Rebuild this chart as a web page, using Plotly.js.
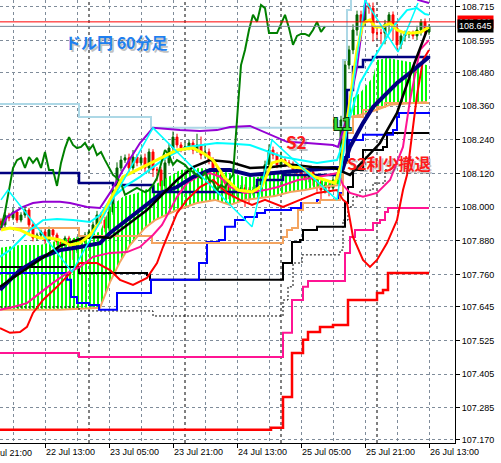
<!DOCTYPE html>
<html><head><meta charset="utf-8">
<script src="https://cdn.plot.ly/plotly-3.0.1.min.js"></script>
<style>html,body{margin:0;padding:0;background:#fff;}#chart{width:501px;height:463px;}</style>
</head><body><div id="chart"></div>
<script>
// x = hours since 2019-07-22 00:00 (USD/JPY, 60-minute bars)
const xTickHours = [13, 29, 45, 61, 77, 93, 109];
const xTickLabels = ['22 Jul 13:00','23 Jul 05:00','23 Jul 21:00','24 Jul 13:00','25 Jul 05:00','25 Jul 21:00','26 Jul 13:00'];
const yTickValues = [107.170,107.285,107.405,107.525,107.645,107.760,107.880,108.000,108.120,108.240,108.360,108.480,108.595,108.715];
const daySeparatorHours = [24, 48, 72, 96];
const bidPrice = 108.645;
const askPrice = 108.661;
const firstBarHour = 2;

const opens = [107.950,107.937,107.972,107.962,107.983,107.954,107.972,107.990,107.937,107.890,
107.901,107.912,107.883,107.919,107.901,107.876,107.865,107.890,107.876,107.847,
107.883,107.876,107.901,107.912,107.937,107.972,107.954,107.926,107.983,108.061,
108.140,108.168,108.176,108.140,108.179,108.158,108.176,108.140,108.197,108.133,
108.133,108.076,108.158,108.211,108.250,108.222,108.211,108.215,108.229,108.204,
108.222,108.186,108.197,108.168,108.140,108.115,108.104,108.086,108.044,108.054,
108.061,108.069,108.061,108.054,108.061,108.079,108.104,108.151,108.204,108.186,
108.151,108.168,108.158,108.151,108.133,108.126,108.115,108.104,108.126,108.097,
108.090,108.061,108.079,108.069,108.097,108.115,108.311,108.507,108.561,108.632,
108.686,108.661,108.721,108.710,108.621,108.621,108.621,108.653,108.686,108.639,
108.579,108.611,108.618,108.618,108.611,108.632,108.661,108.625];
const closes = [107.937,107.972,107.962,107.983,107.954,107.972,107.990,107.937,107.890,107.901,
107.912,107.883,107.919,107.901,107.876,107.865,107.890,107.876,107.847,107.883,
107.876,107.901,107.912,107.937,107.972,107.954,107.926,107.983,108.061,108.140,
108.168,108.176,108.140,108.179,108.158,108.176,108.140,108.197,108.133,108.133,
108.076,108.158,108.211,108.250,108.222,108.211,108.215,108.229,108.204,108.222,
108.186,108.197,108.168,108.140,108.115,108.104,108.086,108.044,108.054,108.061,
108.069,108.061,108.054,108.061,108.079,108.104,108.151,108.204,108.186,108.151,
108.168,108.158,108.151,108.133,108.126,108.115,108.104,108.126,108.097,108.090,
108.061,108.079,108.069,108.097,108.115,108.311,108.507,108.561,108.632,108.686,
108.661,108.721,108.710,108.621,108.621,108.621,108.653,108.686,108.639,108.579,
108.611,108.618,108.618,108.611,108.632,108.661,108.625,108.645];
const wickUp = [0.010,0.012,0.008,0.015,0.008,0.010,0.012,0.008,0.010,0.008,
0.008,0.010,0.012,0.008,0.008,0.010,0.008,0.008,0.010,0.012,
0.008,0.010,0.010,0.012,0.015,0.010,0.012,0.020,0.020,0.020,
0.015,0.012,0.015,0.025,0.010,0.012,0.015,0.012,0.010,0.010,
0.010,0.012,0.015,0.020,0.012,0.010,0.015,0.012,0.010,0.040,
0.030,0.030,0.012,0.010,0.010,0.012,0.010,0.010,0.012,0.010,
0.010,0.012,0.010,0.012,0.010,0.012,0.015,0.020,0.012,0.010,
0.030,0.012,0.010,0.012,0.010,0.012,0.010,0.012,0.010,0.010,
0.010,0.012,0.010,0.012,0.010,0.015,0.020,0.015,0.020,0.015,
0.015,0.005,0.008,0.020,0.015,0.015,0.015,0.010,0.012,0.015,
0.010,0.012,0.010,0.012,0.015,0.010,0.012,0.008];
const wickDown = [0.010,0.008,0.012,0.008,0.010,0.008,0.010,0.030,0.012,0.010,
0.010,0.015,0.008,0.010,0.012,0.010,0.012,0.030,0.035,0.010,
0.008,0.010,0.008,0.010,0.008,0.012,0.015,0.010,0.010,0.012,
0.012,0.010,0.015,0.010,0.012,0.010,0.015,0.020,0.025,0.040,
0.030,0.012,0.010,0.012,0.010,0.015,0.010,0.012,0.015,0.010,
0.015,0.012,0.015,0.012,0.015,0.045,0.040,0.015,0.012,0.015,
0.012,0.060,0.040,0.012,0.010,0.010,0.012,0.010,0.015,0.012,
0.012,0.015,0.010,0.012,0.015,0.012,0.010,0.015,0.020,0.035,
0.035,0.012,0.030,0.012,0.015,0.015,0.020,0.015,0.015,0.020,
0.015,0.015,0.020,0.030,0.020,0.040,0.040,0.035,0.045,0.020,
0.015,0.020,0.015,0.012,0.015,0.020,0.012,0.010];

const chikouShiftBars = 26;

const cloudTopHours = [1.75,6.75,11.75,16.75,21.75,26.75,29.25,32.5,36,39.25,42.5,46.75,51.75,55.5,59.25,63,66.25,69.75,73,76.25,79.25,83,86.75,88,89.25,91.75,95,96,98.5,101,104.25,108.5];
const cloudTopPrices = [107.855,107.865,107.865,107.883,107.894,107.912,108.001,108.037,108.051,108.069,108.097,108.133,108.140,108.133,108.122,108.108,108.108,108.122,108.122,108.115,108.104,108.097,108.097,108.275,108.382,108.407,108.464,108.525,108.532,108.525,108.518,108.507];
const cloudBottomHours = [1.75,16.75,26.75,29.25,31.75,34.25,38,40.5,46,51,55.5,59.25,63,66.75,70.5,74.25,78,81.75,86.75,88,89.25,91.75,96,99.25,108.5];
const cloudBottomPrices = [107.634,107.634,107.641,107.733,107.805,107.865,107.926,107.954,107.990,108.015,108.026,108.008,108.026,108.033,108.040,108.054,108.061,108.072,108.079,108.311,108.322,108.329,108.347,108.365,108.375];

const purpleHours = [1.75,3.5,5,7.5,10,12.5,16.75,19.25,23.5,26.75,29.25,32.5,36.75,40,46.75,51.75,56,59.25,64.25,69.25,73.5,78.5,85,86.25,88.5,91,93.5,99.25,103,106.25,108,109];
const purplePrices = [107.919,107.965,107.979,108.001,108.015,108.019,108.019,108.015,108.001,107.997,108.051,108.133,108.229,108.283,108.275,108.272,108.275,108.286,108.290,108.258,108.233,108.229,108.222,108.215,108.322,108.500,108.775,108.882,108.810,108.739,108.732,108.728];
const redBandHours = [1.75,4.25,6.75,8.5,10,12.5,16,19.25,21.75,26,29.25,31.75,35,38.5,41,42.5,44.25,46,48.5,51.75,55,58.5,61.75,64.75,68,72.5,76.75,81,86,87.5,88.5,90,92.5,94.25,96,98.5,101,102.5,103.5,104.75,106,107.5,109];
const redBandPrices = [107.569,107.552,107.555,107.573,107.623,107.669,107.716,107.765,107.801,107.801,107.776,107.741,107.723,107.748,107.801,107.858,107.919,107.979,108.026,108.072,108.097,108.051,108.026,108.008,108.026,108.001,108.026,108.051,108.061,108.026,108.015,107.894,107.812,107.787,107.812,107.872,107.954,108.061,108.115,108.265,108.400,108.525,108.561];
const pinkBandHours = [1.75,5,8.5,11.75,15,18.5,21.75,25,29.25,33.5,36.75,40,42.25,44.25,46,48.5,51,54.25,56.75,59.25,63,68,71.25,76.25,81.25,86.25,87.5,89.25,92.5,96,99.25,102.5,104.25,106.75,109];
const pinkBandPrices = [107.634,107.644,107.658,107.694,107.730,107.765,107.787,107.823,107.837,107.840,107.858,107.901,107.937,107.990,108.037,108.086,108.108,108.122,108.108,108.072,108.051,108.061,108.072,108.097,108.108,108.122,108.079,108.051,108.037,108.051,108.097,108.215,108.382,108.561,108.596];
const cyanBandHours = [1.75,4.25,6.75,9.25,12.5,16,20,24.25,26.75,29.25,33.5,36.75,40,43.5,48.5,56,60,64.25,72.5,81,86,87.5,89.25,91.75,96,100,103.5,106,108,109];
const cyanBandPrices = [107.823,107.847,107.883,107.919,107.954,107.958,107.954,107.947,107.972,108.026,108.079,108.108,108.143,108.179,108.215,108.229,108.226,108.222,108.179,108.158,108.168,108.229,108.322,108.443,108.550,108.643,108.703,108.710,108.689,108.686];
const zigzagHours = [2,3.75,19.75,40,64.75,69.75,86,93,101.25,106.25];
const zigzagPrices = [108.026,108.061,107.769,108.283,107.930,108.240,108.026,108.739,108.554,108.728];
const yellowHours = [2,4.25,6.75,9.25,11.75,14.25,16.75,19.25,21.75,24.25,26.75,29.25,32.5,37.5,42.5,46,50,52.5,55,58,61.25,64.75,67.25,69.75,72.25,74.75,77.25,80.5,83,85.5,87,89.25,91,92.5,94.25,95.5,97.5,99.25,101,103,105,107,109];
const yellowPrices = [107.919,107.926,107.919,107.901,107.890,107.890,107.883,107.865,107.872,107.901,107.947,108.026,108.108,108.143,108.179,108.204,108.211,108.193,108.168,108.104,108.061,108.054,108.076,108.158,108.168,108.143,108.140,108.108,108.097,108.086,108.151,108.382,108.561,108.657,108.668,108.643,108.643,108.657,108.632,108.621,108.621,108.625,108.643];
const navyMaHours = [1.75,6.75,11.75,16.75,21.75,26.75,29.25,33.5,37.5,42.5,46,50,54.25,59.25,64.25,69.75,74.75,79.75,84.75,87.5,89.25,92.5,95,97.5,101,104.25,109];
const navyMaPrices = [107.705,107.776,107.819,107.847,107.858,107.872,107.908,107.954,108.001,108.054,108.072,108.108,108.133,108.133,108.115,108.122,108.126,108.133,108.140,108.140,108.215,108.300,108.357,108.393,108.443,108.479,108.536];
const blackMaHours = [1.75,6.75,11.75,16.75,22.5,26.75,29.25,34.25,38.5,41.75,46,50,54.25,59.25,64.25,69.75,74.75,79.75,85.5,87.5,89.25,93.5,96.75,101,105,108.5];
const blackMaPrices = [107.716,107.765,107.812,107.862,107.890,107.894,107.890,107.944,107.990,108.037,108.097,108.143,108.168,108.161,108.140,108.143,108.151,108.143,108.140,108.126,108.115,108.179,108.229,108.336,108.500,108.632];

// step (channel) lines
const lightBlueStepHours = [1.75,21.5,39.5,87.5,88.5,89.5,109];
const lightBlueStepPrices = [108.368,108.322,108.283,108.525,108.703,108.750,108.750];
const navyStepHours = [1.75,21.5,30,40,66,72.5,86.5,87.5,88.5,90,92.5,95,109];
const navyStepPrices = [108.122,108.086,108.079,108.054,108.097,108.115,108.126,108.168,108.418,108.500,108.525,108.536,108.539];
const blueStepHours = [1.75,18.5,19.5,21,24,26.5,31,39.5,51.5,53.5,56.5,58,60.5,63,66,68,74.5,77,81,86.5,87.5,89,92.5,100,101,101.5,109];
const blueStepPrices = [107.765,107.741,107.680,107.658,107.651,107.634,107.694,107.741,107.801,107.876,107.883,107.930,107.954,107.965,107.979,107.990,107.997,108.015,108.026,108.051,108.179,108.240,108.258,108.275,108.322,108.336,108.340];
const blackStepHours = [1.75,21.5,38.5,39.25,72.5,74.75,76.75,77.5,81,88,88.75,90,92.5,97.5,98.5,109];
const blackStepPrices = [107.787,107.765,107.758,107.741,107.801,107.876,107.883,107.919,107.930,108.015,108.072,108.133,108.204,108.215,108.265,108.265];
const blackDashHours = [1.75,21.5,40,72.5,73.75,75,77.25,86.75,87.5,88.75,90,91.75,95,98,100];
const blackDashPrices = [107.644,107.630,107.612,107.669,107.716,107.801,107.830,107.847,107.954,108.001,108.037,108.061,108.086,108.133,108.133];
const pinkStepHours = [1.75,21.5,72.5,74.75,77.5,78.75,88,89.25,90.5,95,96.75,98,98.75,109];
const pinkStepPrices = [107.480,107.466,107.552,107.669,107.716,107.737,107.837,107.894,107.919,107.944,107.954,107.983,107.997,107.997];
const redStepHours = [1.75,69.5,72.5,74.75,77.5,78.75,81.75,85,88.75,96,97.5,98.75,109];
const redStepPrices = [107.206,107.213,107.323,107.480,107.527,107.555,107.573,107.580,107.669,107.694,107.705,107.765,107.765];
const orangeStepHours = [1.75,21.5,39.75,72.5,73.5,74.75,76.25,77.5,81.75,86.75,87.5,88.5,90,92.5,96,98,109];
const orangeStepPrices = [107.926,107.897,107.872,107.894,107.919,107.926,107.990,108.015,108.026,108.044,108.158,108.265,108.322,108.347,108.357,108.372,108.372];

// ---------- build ----------
const barHours = closes.map((_, i) => firstBarHour + i);
const highs = closes.map((c, i) => Math.max(opens[i], c) + wickUp[i]);
const lows = closes.map((c, i) => Math.min(opens[i], c) - wickDown[i]);
const chikouX = [], chikouY = [];
barHours.forEach((h, i) => { if (h - chikouShiftBars >= firstBarHour) { chikouX.push(h - chikouShiftBars); chikouY.push(closes[i]); } });

function line(x, y, color, width, shape, dash) {
  return {type:'scatter', mode:'lines', x:x, y:y, hoverinfo:'skip',
    line:{color:color, width:width, shape:shape || 'linear', dash:dash || 'solid'}};
}

const traces = [
  {type:'scatter', mode:'lines', x:cloudBottomHours, y:cloudBottomPrices, line:{width:0, color:'rgba(0,0,0,0)'}, hoverinfo:'skip'},
  {type:'scatter', mode:'lines', x:cloudTopHours, y:cloudTopPrices, line:{width:0, color:'rgba(0,0,0,0)'}, hoverinfo:'skip',
    fill:'tonexty', fillcolor:'rgba(0,0,0,0)',
    fillpattern:{shape:'|', fgcolor:'#00FF00', bgcolor:'rgba(0,0,0,0)', size:4, solidity:0.5}},
  line(cloudBottomHours, cloudBottomPrices, '#F4A460', 2),
  line(lightBlueStepHours, lightBlueStepPrices, '#ADD8E6', 2, 'hv'),
  line(redStepHours, redStepPrices, '#FF0000', 2.5, 'hv'),
  line(pinkStepHours, pinkStepPrices, '#FF1493', 2, 'hv'),
  line(blackDashHours, blackDashPrices, '#000000', 1, 'hv', '2px,2px'),
  line(blackStepHours, blackStepPrices, '#000000', 2, 'hv'),
  line(blueStepHours, blueStepPrices, '#0000FF', 2, 'hv'),
  line(orangeStepHours, orangeStepPrices, '#F4A460', 2, 'hv'),
  line(navyStepHours, navyStepPrices, '#000080', 2.5, 'hv'),
  line(redBandHours, redBandPrices, '#FF0000', 2),
  line(pinkBandHours, pinkBandPrices, '#FF1493', 2),
  line(purpleHours, purplePrices, '#9400D3', 2),
  line(cyanBandHours, cyanBandPrices, '#00FFFF', 2),
  line(navyMaHours, navyMaPrices, '#000080', 4),
  line(blackMaHours, blackMaPrices, '#000000', 2.5),
  line(chikouX, chikouY, '#008000', 2),
  {type:'candlestick', x:barHours, open:opens, high:highs, low:lows, close:closes, hoverinfo:'skip', whiskerwidth:0,
    increasing:{line:{color:'#006400', width:1}, fillcolor:'#006400'},
    decreasing:{line:{color:'#FF0000', width:1}, fillcolor:'#FF0000'}},
  line(yellowHours, yellowPrices, '#FFFF00', 3),
  line(zigzagHours, zigzagPrices, '#00FFFF', 1.5)
];

const gridColor = '#7F8C9A';
const tickFont = {family:'"Liberation Sans", Arial, sans-serif', size:9, color:'#000'};
const jp = '"Noto Sans CJK JP", "Noto Sans", sans-serif';

const shapes = daySeparatorHours.map(h => ({type:'line', xref:'x', yref:'paper', x0:h, x1:h, y0:0, y1:1,
  line:{color:'#000', width:1, dash:'3px,3px'}, layer:'between'}));
shapes.push({type:'line', xref:'paper', yref:'y', x0:0, x1:1, y0:askPrice, y1:askPrice, line:{color:'#FF0000', width:1}, layer:'above'});
shapes.push({type:'line', xref:'paper', yref:'y', x0:0, x1:1, y0:bidPrice, y1:bidPrice, line:{color:'#778899', width:1}, layer:'above'});

function label(text, x, y, color, size, extra) {
  return Object.assign({xref:'paper', yref:'paper', x:x, y:y, xanchor:'center', yanchor:'middle',
    text:'<b>'+text+'</b>', showarrow:false, font:{family:jp, size:size, color:color}}, extra || {});
}
const annotations = [
  label('ドル円 60分足', 0.2571, 0.9052, 'rgba(80,80,80,0.35)', 16, {xshift:1.5, yshift:-2}),
  label('ドル円 60分足', 0.2571, 0.9052, '#1E7FEF', 16),
  label('S2', 0.6527, 0.6795, 'rgba(80,80,80,0.35)', 17, {xshift:1.5, yshift:-2}),
  label('S2', 0.6527, 0.6795, '#FF1A1A', 17),
  label('L1', 0.7538, 0.7223, '#0A3A0A', 16, {xshift:1, yshift:1}),
  label('L1', 0.7538, 0.7223, '#0A3A0A', 16, {xshift:-1, yshift:-1}),
  label('L1', 0.7538, 0.7223, '#0A3A0A', 16, {xshift:1, yshift:-1}),
  label('L1', 0.7538, 0.7223, '#0A3A0A', 16, {xshift:-1, yshift:1}),
  label('L1', 0.7538, 0.7223, '#33DD33', 16),
  label('S2利少撤退', 0.8549, 0.6321, 'rgba(80,80,80,0.35)', 16, {xshift:1.5, yshift:-2}),
  label('S2利少撤退', 0.8549, 0.6321, '#FF1A1A', 16),
  {xref:'paper', yref:'paper', x:-19/455, y:0, yanchor:'top', xanchor:'left', yshift:-3, showarrow:false,
    text:'21 Jul 21:00', font:tickFont},
  {xref:'paper', yref:'y', x:1, y:askPrice, xanchor:'left', yanchor:'middle', showarrow:false, text:askPrice.toFixed(3),
    bgcolor:'#FF0000', font:{family:tickFont.family, size:9, color:'#fff'}, borderpad:1, xshift:2},
  {xref:'paper', yref:'y', x:1, y:bidPrice, xanchor:'left', yanchor:'middle', showarrow:false, text:bidPrice.toFixed(3),
    bgcolor:'#000000', font:{family:tickFont.family, size:9, color:'#fff'}, borderpad:1, xshift:2}
];

const layout = {
  width:501, height:463, margin:{l:0, r:46, t:0, b:20},
  paper_bgcolor:'#fff', plot_bgcolor:'#fff', showlegend:false,
  xaxis:{range:[1.75,115.5], tickmode:'array', tickvals:xTickHours, ticktext:xTickLabels,
    ticks:'outside', ticklen:4, tickcolor:'#000', showline:true, linecolor:'#000', linewidth:1,
    showgrid:true, gridcolor:gridColor, griddash:'3px,3px', gridwidth:1, zeroline:false,
    ticklabelposition:'outside right', tickfont:tickFont,
    minor:{tick0:5, dtick:8, showgrid:true, gridcolor:gridColor, griddash:'3px,3px', gridwidth:1, ticks:''},
    rangeslider:{visible:false}, fixedrange:true},
  yaxis:{side:'right', range:[107.159,108.739], tickmode:'array', tickvals:yTickValues, tickformat:'.3f',
    ticks:'outside', ticklen:4, tickcolor:'#000', showline:true, linecolor:'#000', linewidth:1,
    showgrid:true, gridcolor:gridColor, griddash:'3px,3px', gridwidth:1, zeroline:false,
    tickfont:tickFont, fixedrange:true},
  shapes:shapes, annotations:annotations
};
Plotly.newPlot('chart', traces, layout, {displayModeBar:false, staticPlot:true});
</script></body></html>
